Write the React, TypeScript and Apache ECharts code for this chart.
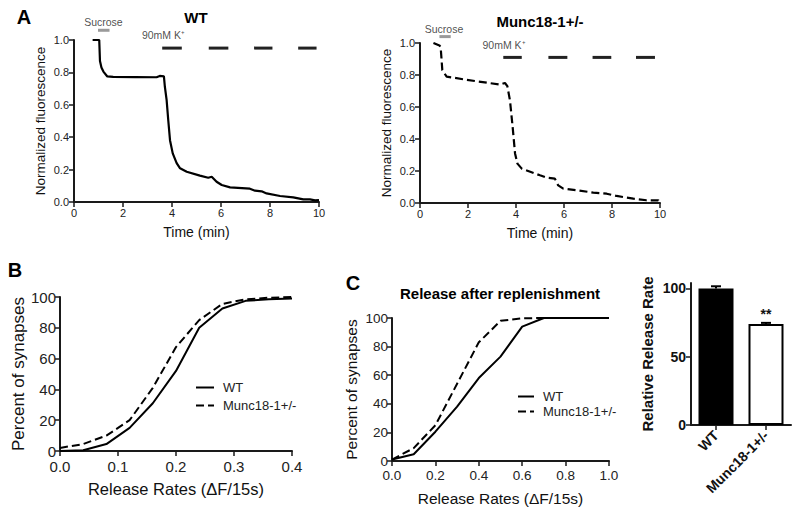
import React, { useEffect, useRef } from "react";
import * as echarts from "echarts";

const FONT = "'Liberation Sans', Arial, Helvetica, sans-serif";
const INK = "#1a1a1a";

// ---------- Panel A data ----------
const wtTrace: number[][] = [
  [0.76, 1.0], [1.03, 1.0], [1.06, 0.87], [1.12, 0.83], [1.2, 0.805], [1.36, 0.775],
  [1.6, 0.772], [2.5, 0.771], [3.37, 0.77], [3.5, 0.778], [3.67, 0.775], [3.71, 0.71],
  [3.78, 0.63], [3.85, 0.5], [3.92, 0.38], [4.03, 0.3], [4.19, 0.24], [4.33, 0.208],
  [4.6, 0.187], [5.14, 0.163], [5.48, 0.15], [5.62, 0.156], [5.82, 0.125], [6.03, 0.105],
  [6.37, 0.09], [7.18, 0.082], [7.39, 0.07], [7.66, 0.066], [7.86, 0.053], [8.41, 0.037],
  [8.95, 0.029], [9.36, 0.016], [9.63, 0.016], [9.84, 0.01], [10, 0.012],
];
const muncTrace: number[][] = [
  [0.56, 1.0], [0.81, 0.985], [0.86, 0.975], [0.93, 0.83], [1.11, 0.79], [1.94, 0.77],
  [3.33, 0.74], [3.54, 0.75], [3.64, 0.73], [3.75, 0.64], [3.86, 0.475], [3.96, 0.31],
  [4.06, 0.246], [4.24, 0.215], [5.0, 0.173], [5.28, 0.158], [5.62, 0.152], [5.76, 0.11],
  [5.97, 0.09], [6.53, 0.08], [7.22, 0.065], [7.78, 0.058], [8.19, 0.044], [8.89, 0.027],
  [9.44, 0.017], [9.93, 0.017], [10, 0.0],
];
const wtSucrose = [0.98, 1.45];
const wtSucroseLevel = 1.06;
const wtKPulses = [[3.6, 4.4], [5.5, 6.3], [7.35, 8.1], [9.15, 9.9]];
const wtKLevel = 0.95;
const muncSucrose = [0.81, 1.28];
const muncSucroseLevel = 1.04;
const muncKPulses = [[3.47, 4.24], [5.35, 6.14], [7.19, 7.97], [9.0, 9.79]];
const muncKLevel = 0.91;
const wtLabels = [
  { name: "Sucrose", value: [1.2, 1.11] },
  { name: "90mM K⁺", value: [3.65, 1.03] },
];
const muncLabels = [
  { name: "Sucrose", value: [1.0, 1.09] },
  { name: "90mM K⁺", value: [3.5, 0.99] },
];

// ---------- Panel B data ----------
const bRates = [0, 0.04, 0.08, 0.12, 0.16, 0.2, 0.24, 0.28, 0.32, 0.36, 0.4];
const bWT = [0, 0.5, 4.5, 15, 31, 52, 80, 92.5, 97.5, 98.5, 99];
const bMunc = [2, 4.5, 10, 20, 41, 67.5, 85, 95.5, 98.5, 99.5, 100];

// ---------- Panel C data ----------
const cRates = [0, 0.1, 0.2, 0.3, 0.4, 0.5, 0.6, 0.7, 0.8, 0.9, 1.0];
const cWT = [1, 4.7, 20.5, 38, 58, 73, 94, 100, 100, 100, 100];
const cMunc = [1, 9, 25, 54, 83, 98, 99.8, 100, 100, 100, 100];

// ---------- Bar panel data ----------
const barCats = ["WT", "Munc18-1+/-"];
const barValues = [100, 74];
const barErrors = [1.6, 0.8];
const barSig = ["", "**"];

const zip = (xs: number[], ys: number[]) => xs.map((x, i) => [x, ys[i]]);

function axisBase(fontSize: number, bold = false) {
  return {
    axisLine: { show: true, onZero: false, lineStyle: { color: INK, width: 2 } },
    axisTick: { show: true, length: 5, inside: false, lineStyle: { color: INK, width: 1.5 } },
    splitLine: { show: false },
    axisLabel: {
      color: "#222",
      fontFamily: FONT,
      fontSize,
      fontWeight: bold ? "bold" : "normal",
      margin: 5,
    },
    nameTextStyle: {
      color: "#111",
      fontFamily: FONT,
      fontWeight: bold ? "bold" : "normal",
    },
  };
}

export default function App() {
  const ref = useRef<HTMLDivElement>(null);

  useEffect(() => {
    document.body.style.margin = "0";
    if (!ref.current) return;
    const chart = echarts.init(ref.current, undefined, { renderer: "svg" });

    const pulseSeries = (pulses: number[][], level: number, xi: number) =>
      pulses.map((p) => ({
        type: "line",
        xAxisIndex: xi,
        yAxisIndex: xi,
        symbol: "none",
        clip: false,
        silent: true,
        data: [[p[0], level], [p[1], level]],
        lineStyle: { color: "#222", width: 3 },
      }));

    const sucroseSeries = (s: number[], level: number, xi: number) => ({
      type: "line",
      xAxisIndex: xi,
      yAxisIndex: xi,
      symbol: "none",
      clip: false,
      silent: true,
      data: [[s[0], level], [s[1], level]],
      lineStyle: { color: "#9a9a9a", width: 3 },
    });

    const labelSeries = (items: any[], xi: number) => ({
      type: "scatter",
      xAxisIndex: xi,
      yAxisIndex: xi,
      symbolSize: 0,
      clip: false,
      silent: true,
      data: items,
      label: {
        show: true,
        position: "inside",
        formatter: "{b}",
        color: "#222",
        fontFamily: FONT,
        fontSize: 10.5,
      },
    });

    const legendCommon = {
      orient: "vertical",
      data: ["WT", "Munc18-1+/-"],
      selectedMode: false,
      itemStyle: { color: "rgba(0,0,0,0)", borderWidth: 0, opacity: 0 },
      lineStyle: { width: 2 },
      textStyle: { fontFamily: FONT, fontSize: 13, color: "#222", padding: [0, 0, 0, 4] },
    };

    const option: any = {
      animation: false,
      backgroundColor: "#fff",
      textStyle: { fontFamily: FONT },
      graphic: [
        { type: "text", x: 24, y: 17, style: { text: "A", font: `bold 20px ${FONT}`, fill: "#000", align: "center", verticalAlign: "middle" } },
        { type: "text", x: 196, y: 17, style: { text: "WT", font: `bold 15px ${FONT}`, fill: "#000", align: "center", verticalAlign: "middle" } },
        { type: "text", x: 540, y: 21, style: { text: "Munc18-1+/-", font: `bold 15px ${FONT}`, fill: "#000", align: "center", verticalAlign: "middle" } },
        { type: "text", x: 15, y: 270, style: { text: "B", font: `bold 20px ${FONT}`, fill: "#000", align: "center", verticalAlign: "middle" } },
        { type: "text", x: 353, y: 283, style: { text: "C", font: `bold 20px ${FONT}`, fill: "#000", align: "center", verticalAlign: "middle" } },
        { type: "text", x: 500, y: 293, style: { text: "Release after replenishment", font: `bold 15px ${FONT}`, fill: "#000", align: "center", verticalAlign: "middle" } },
      ],
      legend: [
        { ...legendCommon, left: 190, top: 376, itemWidth: 18, itemHeight: 14, itemGap: 5 },
        { ...legendCommon, left: 512, top: 385, itemWidth: 16, itemHeight: 12, itemGap: 2 },
      ],
      grid: [
        { left: 74, top: 40, width: 245, height: 162 },
        { left: 420, top: 43, width: 240, height: 160 },
        { left: 60, top: 297, width: 232, height: 154 },
        { left: 392, top: 318, width: 217, height: 143 },
        { left: 691, top: 283, width: 100, height: 142 },
      ],
      xAxis: [
        {
          ...axisBase(11), gridIndex: 0, type: "value", min: 0, max: 10, interval: 2,
          name: "Time (min)", nameLocation: "middle", nameGap: 23,
          nameTextStyle: { ...axisBase(11).nameTextStyle, fontSize: 14 },
        },
        {
          ...axisBase(11), gridIndex: 1, type: "value", min: 0, max: 10, interval: 2,
          name: "Time (min)", nameLocation: "middle", nameGap: 23,
          nameTextStyle: { ...axisBase(11).nameTextStyle, fontSize: 14 },
        },
        {
          ...axisBase(15), gridIndex: 2, type: "value", min: 0, max: 0.4, interval: 0.1,
          axisLabel: { ...axisBase(15).axisLabel, margin: 8, formatter: (v: number) => v.toFixed(1) },
          name: "Release Rates (ΔF/15s)", nameLocation: "middle", nameGap: 29,
          nameTextStyle: { ...axisBase(15).nameTextStyle, fontSize: 16.5 },
        },
        {
          ...axisBase(13.5), gridIndex: 3, type: "value", min: 0, max: 1, interval: 0.2,
          axisLabel: { ...axisBase(13.5).axisLabel, margin: 7, formatter: (v: number) => v.toFixed(1) },
          name: "Release Rates (ΔF/15s)", nameLocation: "middle", nameGap: 29,
          nameTextStyle: { ...axisBase(13.5).nameTextStyle, fontSize: 15.5 },
        },
        {
          ...axisBase(14, true), gridIndex: 4, type: "category", data: barCats,
          axisTick: { show: true, alignWithLabel: true, length: 5, lineStyle: { color: INK, width: 1.5 } },
          axisLabel: { ...axisBase(14, true).axisLabel, rotate: 45, margin: 8, color: "#111" },
        },
      ],
      yAxis: [
        {
          ...axisBase(11), gridIndex: 0, type: "value", min: 0, max: 1, interval: 0.2,
          axisLabel: { ...axisBase(11).axisLabel, formatter: (v: number) => v.toFixed(1) },
          name: "Normalized fluorescence", nameLocation: "middle", nameGap: 27,
          nameTextStyle: { ...axisBase(11).nameTextStyle, fontSize: 13.5 },
        },
        {
          ...axisBase(11), gridIndex: 1, type: "value", min: 0, max: 1, interval: 0.2,
          axisLabel: { ...axisBase(11).axisLabel, formatter: (v: number) => v.toFixed(1) },
          name: "Normalized fluorescence", nameLocation: "middle", nameGap: 27,
          nameTextStyle: { ...axisBase(11).nameTextStyle, fontSize: 13.5 },
        },
        {
          ...axisBase(15), gridIndex: 2, type: "value", min: 0, max: 100, interval: 20,
          axisLabel: { ...axisBase(15).axisLabel, margin: 4 },
          name: "Percent of synapses", nameLocation: "middle", nameGap: 33,
          nameTextStyle: { ...axisBase(15).nameTextStyle, fontSize: 17 },
        },
        {
          ...axisBase(13.5), gridIndex: 3, type: "value", min: 0, max: 100, interval: 20,
          axisLabel: { ...axisBase(13.5).axisLabel, margin: 4 },
          name: "Percent of synapses", nameLocation: "middle", nameGap: 33,
          nameTextStyle: { ...axisBase(13.5).nameTextStyle, fontSize: 15.5 },
        },
        {
          ...axisBase(14, true), gridIndex: 4, type: "value", min: 0, max: 104, interval: 50,
          axisTick: { show: true, length: 5, customValues: [0, 50, 100], lineStyle: { color: INK, width: 1.5 } },
          axisLabel: { ...axisBase(14, true).axisLabel, customValues: [0, 50, 100], color: "#111" },
          name: "Relative Release Rate", nameLocation: "middle", nameGap: 36,
          nameTextStyle: { ...axisBase(14, true).nameTextStyle, fontSize: 15 },
        },
      ],
      series: [
        // Panel A - WT
        {
          type: "line", xAxisIndex: 0, yAxisIndex: 0, symbol: "none", silent: true,
          data: wtTrace, lineStyle: { color: "#000", width: 2.2 },
        },
        sucroseSeries(wtSucrose, wtSucroseLevel, 0),
        ...pulseSeries(wtKPulses, wtKLevel, 0),
        labelSeries(wtLabels, 0),
        // Panel A - Munc
        {
          type: "line", xAxisIndex: 1, yAxisIndex: 1, symbol: "none", silent: true,
          data: muncTrace, lineStyle: { color: "#000", width: 2.2, type: [8, 4] },
        },
        sucroseSeries(muncSucrose, muncSucroseLevel, 1),
        ...pulseSeries(muncKPulses, muncKLevel, 1),
        labelSeries(muncLabels, 1),
        // Panel B
        {
          name: "WT", type: "line", xAxisIndex: 2, yAxisIndex: 2, symbol: "none", silent: true,
          data: zip(bRates, bWT), lineStyle: { color: "#000", width: 2 }, itemStyle: { color: "#000" },
        },
        {
          name: "Munc18-1+/-", type: "line", xAxisIndex: 2, yAxisIndex: 2, symbol: "none", silent: true,
          data: zip(bRates, bMunc), lineStyle: { color: "#000", width: 2, type: [8, 4] }, itemStyle: { color: "#000" },
        },
        // Panel C
        {
          name: "WT", type: "line", xAxisIndex: 3, yAxisIndex: 3, symbol: "none", silent: true,
          data: zip(cRates, cWT), lineStyle: { color: "#000", width: 2 }, itemStyle: { color: "#000" },
        },
        {
          name: "Munc18-1+/-", type: "line", xAxisIndex: 3, yAxisIndex: 3, symbol: "none", silent: true,
          data: zip(cRates, cMunc), lineStyle: { color: "#000", width: 2, type: [8, 4] }, itemStyle: { color: "#000" },
        },
        // Bar panel
        {
          type: "bar", xAxisIndex: 4, yAxisIndex: 4, barWidth: 35, silent: true,
          data: barValues.map((v, i) => ({
            value: v,
            itemStyle: { color: i === 0 ? "#000" : "#fff", borderColor: "#000", borderWidth: 2 },
          })),
        },
        {
          type: "custom", xAxisIndex: 4, yAxisIndex: 4, silent: true,
          data: barValues.map((v, i) => [i, v, barErrors[i]]),
          renderItem: (params: any, api: any) => {
            const i = api.value(0);
            const v = api.value(1);
            const e = api.value(2);
            const base = api.coord([i, v]);
            const top = api.coord([i, v + e]);
            const sig = barSig[params.dataIndex];
            const children: any[] = [
              { type: "line", shape: { x1: base[0], y1: base[1], x2: top[0], y2: top[1] }, style: { stroke: "#000", lineWidth: 2 } },
              { type: "line", shape: { x1: top[0] - 5, y1: top[1], x2: top[0] + 5, y2: top[1] }, style: { stroke: "#000", lineWidth: 2 } },
            ];
            if (sig) {
              children.push({
                type: "text",
                x: top[0],
                y: top[1] - 2,
                style: { text: sig, font: `bold 14px ${FONT}`, fill: "#111", align: "center", verticalAlign: "bottom" },
              });
            }
            return { type: "group", children };
          },
        },
      ],
    };

    chart.setOption(option);
    return () => chart.dispose();
  }, []);

  return <div ref={ref} style={{ width: 800, height: 513 }} />;
}
